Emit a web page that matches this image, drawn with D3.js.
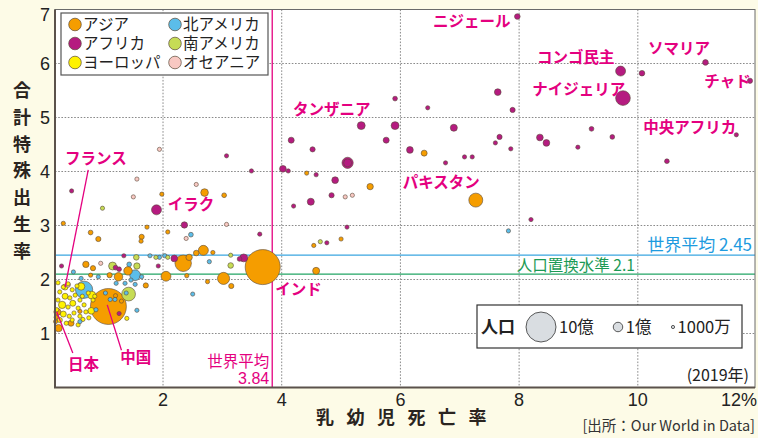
<!DOCTYPE html>
<html><head><meta charset="utf-8">
<script src="https://cdn.jsdelivr.net/npm/d3@7"></script>
<style>
html,body{margin:0;padding:0;background:#fdfbe7;}
svg{display:block;}
</style></head>
<body>
<svg id="c" width="758" height="438"></svg>
<script>
// ---- data: [under-5 mortality %, total fertility rate, population (millions)] ----
const asia = [
 [3.68,2.23,1366],[1.08,1.50,1434],[7.27,3.47,217],[2.34,2.30,300],[3.02,2.02,163],[2.05,2.06,108],
 [6.40,4.34,40],[4.42,3.97,12],[5.49,3.72,45],[5.00,2.75,20],[4.54,2.63,20],[4.58,2.16,55],
 [2.70,3.61,65],[1.98,3.58,20],[3.03,3.56,25],[0.32,3.04,20],[1.73,2.97,20],[0.78,2.87,25],
 [2.08,2.88,20],[1.64,2.79,30],[0.91,2.75,30],[1.63,2.71,20],[2.68,2.54,110],[2.56,2.49,35],
 [2.84,2.50,20],[2.44,2.41,45],[0.70,2.28,45],[0.82,2.21,30],[1.41,2.16,80],[2.40,2.07,20],
 [2.75,1.96,15],[3.15,1.88,30],[0.78,2.08,15],[1.10,2.08,30],[1.25,2.05,80],[1.71,1.89,30],
 [0.22,1.40,55],[0.24,1.10,60],[0.19,1.22,15],[0.45,1.19,40],[0.60,1.41,20],[0.20,1.30,20],
 [1.20,1.70,15],[1.30,1.60,12]
];
const africa = [
 [7.97,6.87,35],[9.71,5.86,110],[10.07,5.82,35],[11.14,6.02,35],[11.89,5.68,30],[9.75,5.36,240],
 [7.64,5.47,50],[7.89,5.14,30],[5.91,5.35,25],[6.46,5.18,20],[11.66,4.68,20],[8.35,4.63,50],
 [8.46,4.53,50],[9.22,4.79,25],[9.57,4.64,25],[8.99,4.45,20],[7.86,4.42,20],[10.49,4.19,25],
 [8.20,3.11,20],[5.34,4.85,70],[5.91,4.85,70],[6.90,4.81,55],[4.16,4.58,40],[5.76,4.58,40],
 [7.67,4.64,30],[7.60,4.53,20],[4.52,4.41,30],[6.16,4.40,50],[5.11,4.16,140],[5.11,4.16,70],
 [4.02,4.05,50],[4.11,4.01,20],[4.58,3.94,20],[4.90,3.84,50],[6.76,4.16,20],[7.08,4.27,20],
 [7.21,4.27,20],[4.84,3.56,30],[4.49,3.44,55],[4.20,3.36,20],[5.10,2.97,15],[4.76,2.68,15],
 [3.63,2.84,20],[3.07,4.29,15],[3.49,4.01,20],[0.46,3.64,15],[1.89,3.29,110],[2.36,3.01,45],
 [3.36,2.40,70],[3.29,2.38,25],[2.19,2.39,50],[1.34,2.44,15],[0.29,2.25,15],[1.20,2.22,25],
 [1.26,2.19,25],[1.92,2.25,15],[1.26,1.37,20]
];
const europe = [
 [0.23,1.94,15],[0.32,1.86,20],[0.40,1.92,12],[0.47,1.81,20],[0.55,1.88,15],[0.26,1.77,20],
 [0.35,1.69,40],[0.43,1.66,20],[0.52,1.71,15],[0.60,1.62,20],[0.23,1.62,15],[0.30,1.53,60],
 [0.40,1.49,20],[0.48,1.56,40],[0.57,1.47,15],[0.67,1.53,20],[0.21,1.44,20],[0.32,1.36,40],
 [0.42,1.32,20],[0.50,1.38,15],[0.60,1.32,20],[0.70,1.40,15],[0.26,1.25,30],[0.37,1.19,20],
 [0.47,1.25,15],[0.57,1.16,15],[0.75,1.29,15],[0.82,1.62,15],[0.79,1.42,50],[0.64,1.69,15],
 [0.74,1.75,15],[0.85,1.69,15],[1.39,1.28,15],[0.65,1.26,20],[0.62,1.87,60],[0.80,1.71,70],
 [0.35,1.86,40]
];
const northAmerica = [
 [0.67,1.81,330],[1.53,2.08,127],[7.82,2.90,20],[2.47,2.83,25],[1.78,2.44,15],[1.94,2.41,15],
 [2.03,2.44,20],[2.78,2.33,20],[0.49,2.14,12],[0.91,2.05,15],[1.43,2.28,25],[1.64,2.05,20],
 [1.46,1.99,20],[1.53,1.91,15],[2.50,1.73,15],[1.56,1.43,15],[1.03,1.75,12],[1.11,1.63,12],
 [1.19,1.63,12],[1.21,1.93,12],[1.36,1.93,12],[0.87,1.44,12],[1.38,1.75,12],[0.62,2.02,20],
 [0.60,1.22,12]
];
const southAmerica = [
 [1.42,1.73,210],[1.15,2.25,70],[1.56,2.25,45],[1.55,2.41,35],[1.88,2.41,15],[2.08,2.41,15],
 [3.14,2.26,35],[4.65,2.70,20],[0.98,3.32,15],[3.14,2.45,12]
];
const oceania = [
 [1.94,4.41,12],[1.56,3.86,12],[2.56,3.76,12],[1.50,3.53,12],[3.07,3.02,12],[2.39,2.76,12],
 [5.07,3.53,15],[5.19,3.56,10],[0.95,2.30,15],[0.40,1.90,25]
];
const regionNames = ["アジア","アフリカ","ヨーロッパ","北アメリカ","南アメリカ","オセアニア"];
const regionColors = ["#f59d00","#b51b80","#fff200","#5bbde9","#c6dc55","#f8c8c2"];
const xTicks = [2,4,6,8,10];
const yTicks = [1,2,3,4,5,6,7];
const worldFertility = 2.45, replacementLevel = 2.1, worldMortality = 3.84;
const sizeLegend = [[1000,"10億"],[100,"1億"],[10,"1000万"]];
const annotations = [
 ["ニジェール",6.55,6.77],["コンゴ民主",8.30,6.12],["ソマリア",10.17,6.27],["ナイジェリア",8.22,5.51],
 ["チャド",11.12,5.66],["中央アフリカ",10.09,4.81],["タンザニア",4.19,5.14],["パキスタン",6.04,3.79],
 ["インド",3.89,1.81],["イラク",2.08,3.38],["フランス",0.35,4.25],["日本",0.40,0.42],["中国",1.28,0.55]
];
const leaders = [[0.74,4.03,0.35,1.86],[0.48,0.64,0.21,1.40],[1.30,0.69,1.06,1.53]];

// ---- drawing ----
const svg = d3.select("#c");
const L=55, R=755, T=9.5, B=387.5;
const x = d3.scaleLinear().domain([0.18, 0.18 + (R-L)/59.35]).range([L,R]);
const y = d3.scaleLinear().domain([0,7]).range([B,T]);
const r = d3.scaleSqrt().domain([0,1000]).range([0,15]);
const jp = "'Noto Sans CJK JP','Noto Sans',sans-serif";
const num = "'Liberation Sans',Arial,sans-serif";
const pink = "#e4007f";

svg.append("rect").attr("x",L).attr("y",T).attr("width",R-L).attr("height",B-T).attr("fill","#fff");

// grid
const g = svg.append("g");
g.selectAll(".gx").data(xTicks).join("line").attr("x1",d=>x(d)).attr("x2",d=>x(d)).attr("y1",T).attr("y2",B)
 .attr("stroke","#8a8a8a").attr("stroke-dasharray","1.6,1.6");
g.selectAll(".gy").data(yTicks.filter(d=>d<7)).join("line").attr("y1",d=>y(d)).attr("y2",d=>y(d)).attr("x1",L).attr("x2",R)
 .attr("stroke","#8a8a8a").attr("stroke-dasharray","1.6,1.6");

// reference lines
svg.append("line").attr("x1",L).attr("x2",R).attr("y1",y(worldFertility)).attr("y2",y(worldFertility)).attr("stroke","#3aa6e0").attr("stroke-width",1.3);
svg.append("line").attr("x1",L).attr("x2",R).attr("y1",y(replacementLevel)).attr("y2",y(replacementLevel)).attr("stroke","#22a565").attr("stroke-width",1.3);
svg.append("line").attr("x1",x(worldMortality)).attr("x2",x(worldMortality)).attr("y1",T).attr("y2",B).attr("stroke",pink).attr("stroke-width",1.3);

// points
const all = [];
[asia,africa,europe,northAmerica,southAmerica,oceania].forEach((arr,i)=>arr.forEach(d=>all.push({x:d[0],y:d[1],p:d[2],c:regionColors[i]})));
all.sort((a,b)=>b.p-a.p);
svg.append("g").selectAll("circle").data(all).join("circle")
 .attr("cx",d=>x(d.x)).attr("cy",d=>y(d.y)).attr("r",d=>Math.max(2.1,r(d.p)))
 .attr("fill",d=>d.c).attr("stroke","#5a4a3a").attr("stroke-width",0.6);

// frame
svg.append("rect").attr("x",L).attr("y",T).attr("width",R-L).attr("height",B-T).attr("fill","none").attr("stroke","#6a6a6a").attr("stroke-width",1);
svg.append("path").attr("d",`M${L},${T}V${B}H${R}`).attr("fill","none").attr("stroke","#5b524b").attr("stroke-width",2);

// ticks
svg.selectAll(".xt").data(xTicks).join("text").attr("x",d=>x(d)).attr("y",406).attr("text-anchor","middle")
 .attr("font-family",num).attr("font-size",18).attr("fill","#222").text(d=>d);
svg.append("text").attr("x",757).attr("y",406).attr("text-anchor","end").attr("font-family",num).attr("font-size",18).attr("fill","#222").text("12%");
svg.selectAll(".yt").data(yTicks).join("text").attr("x",50).attr("y",d=>Math.max(y(d),14)+6.5).attr("text-anchor","end")
 .attr("font-family",num).attr("font-size",18).attr("fill","#222").text(d=>d);

// axis titles
const yTitle = "合計特殊出生率".split("");
svg.selectAll(".ytt").data(yTitle).join("text").attr("x",22).attr("y",(d,i)=>97+i*26.8).attr("text-anchor","middle")
 .attr("font-family",jp).attr("font-weight",700).attr("font-size",18).attr("fill","#2a2420").text(d=>d);
const xTitle = "乳幼児死亡率".split("");
svg.selectAll(".xtt").data(xTitle).join("text").attr("x",(d,i)=>325+i*30.5).attr("y",424).attr("text-anchor","middle")
 .attr("font-family",jp).attr("font-weight",700).attr("font-size",18).attr("fill","#2a2420").text(d=>d);

// source, year
svg.append("text").attr("x",755).attr("y",431).attr("text-anchor","end").attr("font-family",jp).attr("font-size",14.5).attr("fill","#333").text("[出所：Our World in Data]");
svg.append("text").attr("x",749).attr("y",381).attr("text-anchor","end").attr("font-family",jp).attr("font-size",16).attr("fill","#222").text("(2019年)");

// reference labels
svg.append("text").attr("x",752).attr("y",y(worldFertility)-4).attr("text-anchor","end").attr("font-family",jp).attr("font-size",17).attr("fill","#1e9be0").text("世界平均 2.45");
svg.append("text").attr("x",x(9.95)).attr("y",y(replacementLevel)-3).attr("text-anchor","end").attr("font-family",jp).attr("font-size",15.5).attr("fill","#1b9a55").text("人口置換水準 2.1");
svg.append("text").attr("x",x(worldMortality)-3).attr("y",367).attr("text-anchor","end").attr("font-family",jp).attr("font-size",15.5).attr("fill",pink).text("世界平均");
svg.append("text").attr("x",x(worldMortality)-3).attr("y",384).attr("text-anchor","end").attr("font-family",num).attr("font-size",16).attr("fill",pink).text("3.84");

// annotations
svg.selectAll(".lead").data(leaders).join("line").attr("x1",d=>x(d[0])).attr("y1",d=>y(d[1])).attr("x2",d=>x(d[2])).attr("y2",d=>y(d[3]))
 .attr("stroke",pink).attr("stroke-width",1.3);
svg.selectAll(".ann").data(annotations).join("text").attr("x",d=>x(d[1])).attr("y",d=>y(d[2])+5.5)
 .attr("font-family",jp).attr("font-weight",700).attr("font-size",15.5).attr("fill",pink).text(d=>d[0]);

// region legend
svg.append("rect").attr("x",61).attr("y",13).attr("width",207).attr("height",62).attr("fill","#fff").attr("stroke","#555").attr("stroke-width",1.2);
const lg = svg.append("g").selectAll("g").data(regionNames).join("g")
 .attr("transform",(d,i)=>`translate(${i<3?75:175},${24.5+(i%3)*19})`);
lg.append("circle").attr("r",6.3).attr("fill",(d,i)=>regionColors[i]).attr("stroke","#5a4a3a").attr("stroke-width",0.7);
lg.append("text").attr("x",8).attr("y",5.5).attr("font-family",jp).attr("font-size",15.5).attr("fill","#222").text(d=>d);

// size legend
svg.append("rect").attr("x",477).attr("y",305).attr("width",265).attr("height",43).attr("fill","#fff").attr("stroke","#333").attr("stroke-width",1.2);
svg.append("text").attr("x",481).attr("y",333).attr("font-family",jp).attr("font-weight",700).attr("font-size",17).attr("fill","#222").text("人口");
const sx = [541,618,673];
const sl = svg.append("g").selectAll("g").data(sizeLegend).join("g").attr("transform",(d,i)=>`translate(${sx[i]},327)`);
sl.append("circle").attr("r",d=>Math.max(1.6,r(d[0]))).attr("fill","#d9dde1").attr("stroke","#333").attr("stroke-width",0.8);
sl.append("text").attr("x",d=>Math.max(1.6,r(d[0]))+3).attr("y",6).attr("font-family",jp).attr("font-size",16.5).attr("fill","#222").text(d=>d[1]);
</script>
</body></html>
